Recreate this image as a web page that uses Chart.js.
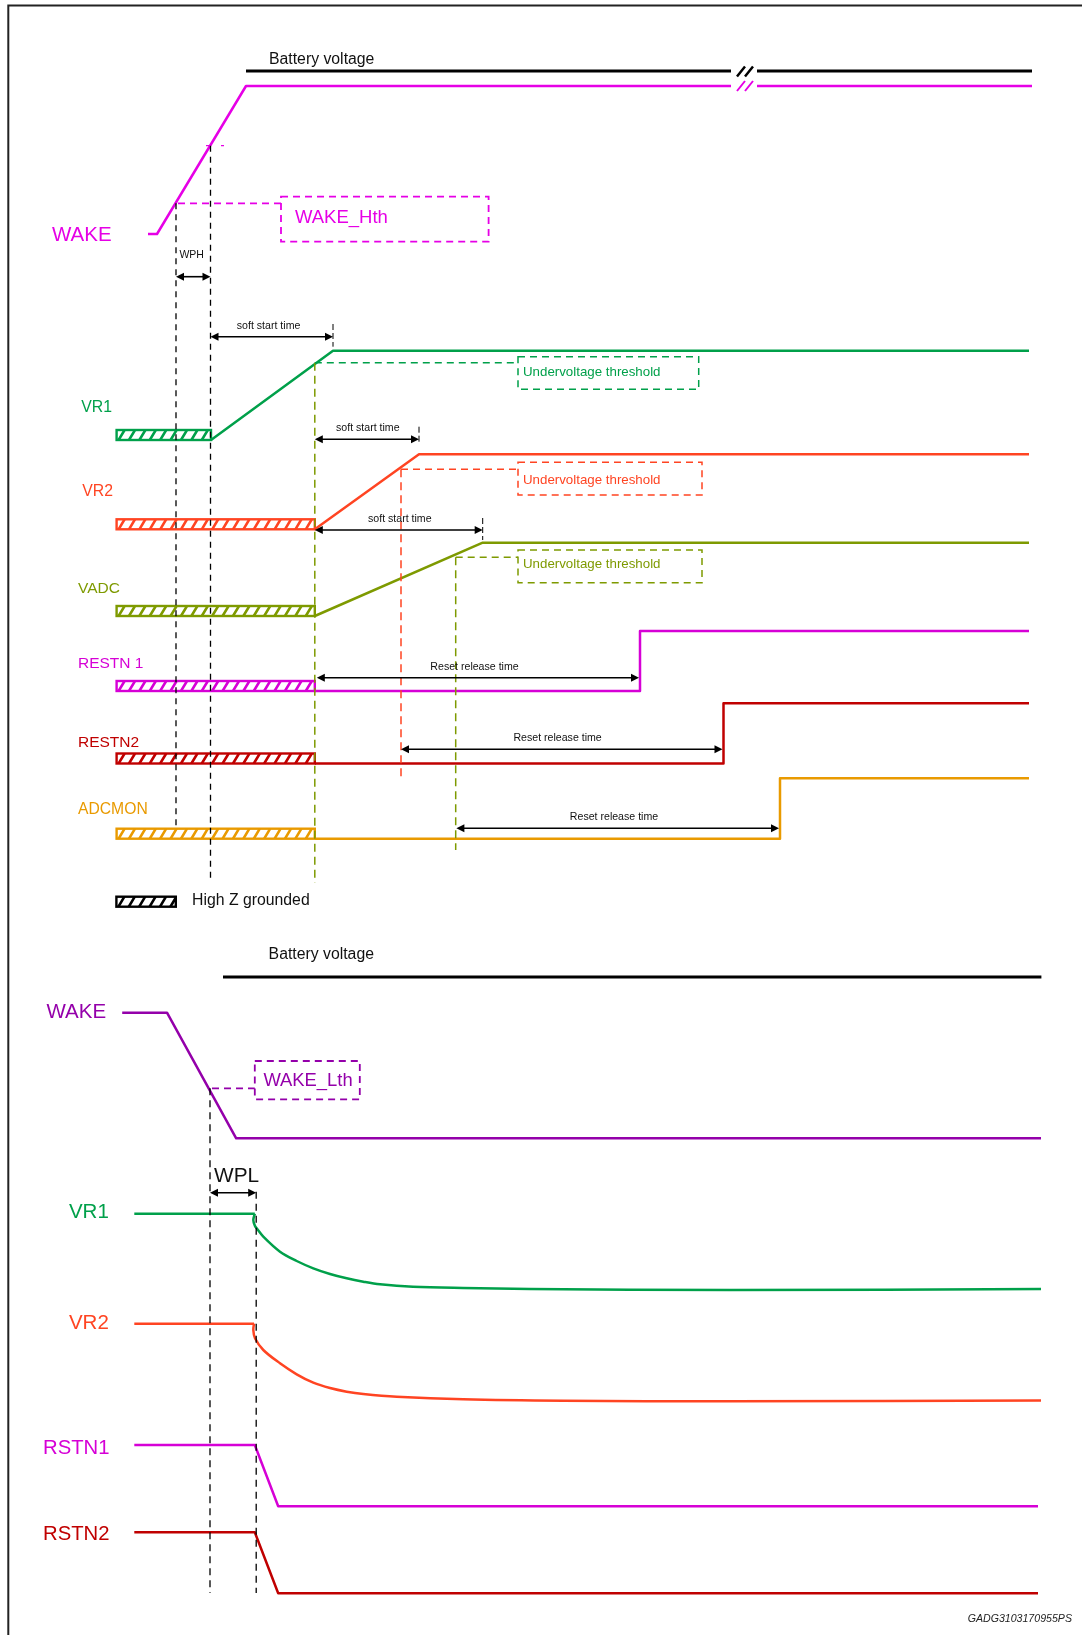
<!DOCTYPE html>
<html><head><meta charset="utf-8">
<script src="https://cdn.jsdelivr.net/npm/chart.js@4.4.1/dist/chart.umd.min.js"></script>
<style>html,body{margin:0;padding:0;background:#fff}#wrap{width:1082px;height:1635px;position:relative}</style>
</head><body><div id="wrap"><canvas id="c"></canvas></div>
<script>
// ===== DATA (time in diagram units, level 0 = low, 1 = high) =====
// Power-up sequence (upper diagram)
const wakeUpT   = [148, 157, 246, 731, 744, 757, 1032];
const wakeUpL   = [0, 0, 1, 1, null, 1, 1];
const vr1UpT    = [211, 333, 1029];
const vr1UpL    = [0, 1, 1];
const vr2UpT    = [314.8, 419, 1029];
const vr2UpL    = [0, 1, 1];
const vadcUpT   = [314.8, 482.7, 1029];
const vadcUpL   = [0, 1, 1];
const restn1T   = [314.8, 640, 640, 1029];
const restn1L   = [0, 0, 1, 1];
const restn2T   = [314.8, 723.5, 723.5, 1029];
const restn2L   = [0, 0, 1, 1];
const adcmonT   = [314.8, 780, 780, 1029];
const adcmonL   = [0, 0, 1, 1];
const highZStart = 116.6;
const highZEnd   = [211, 314.8, 314.8, 314.8, 314.8, 314.8];   // VR1, VR2, VADC, RESTN1, RESTN2, ADCMON
const batteryUpT = [246, 731, 744, 757, 1032];
const batteryUpOn = [1, 1, null, 1, 1];
const wakeHthLevel = 0.207;
const uvLevels     = [0.866, 0.80, 0.80];        // VR1, VR2, VADC undervoltage thresholds
const uvCrossT     = [314.8, 401, 455.7];        // time each rail crosses its threshold
const wakeHthT     = 176;                        // WAKE crosses WAKE_Hth
const wphEndT      = 210.5;                      // end of WPH filter time
// Power-down sequence (lower diagram)
const wakeDnT  = [122.2, 167, 236.2, 1041];
const wakeDnL  = [1, 1, 0, 0];
const vr1FlatT = [134.3, 254.8];
const vr1DecT  = [254.8, 253.3, 255, 256.7, 263.3, 280, 296.7, 313.3, 330, 346.7, 363.3, 380, 413, 463, 530, 730, 1041];
const vr1DecL  = [1, 0.917, 0.839, 0.809, 0.699, 0.502, 0.38, 0.284, 0.21, 0.153, 0.109, 0.075, 0.043, 0.026, 0.013, 0, 0.013];
const vr2FlatT = [134.3, 254];
const vr2DecT  = [254, 253.3, 255, 263.3, 280, 296.7, 313.3, 330, 346.7, 363.3, 396.7, 463.3, 563.3, 730, 1041];
const vr2DecL  = [1, 0.919, 0.812, 0.661, 0.49, 0.348, 0.24, 0.171, 0.124, 0.094, 0.059, 0.026, 0.008, 0, 0.01];
const rstn1DnT = [134.3, 254.8, 278.2, 1038];
const rstn1DnL = [1, 1, 0, 0];
const rstn2DnT = [134.3, 254.8, 278.2, 1038];
const rstn2DnL = [1, 1, 0, 0];
const batteryDnT = [223, 1041.4];
const wakeLthLevel = 0.398;
const wakeLthT = 210;
const wplEndT  = 256.2;

// ===== LAYOUT (lanes in y-scale units) =====
const lanes = {
  wakeU:{low:234, high:86}, vr1U:{low:440, high:350.7}, vr2U:{low:529.3, high:454.3},
  vadcU:{low:616, high:542.7}, rst1U:{low:691, high:631}, rst2U:{low:763.5, high:703.3},
  adcU:{low:838.7, high:778.3}, batU:{low:71, high:71},
  wakeD:{low:1138.3, high:1012.7}, vr1D:{low:1290, high:1213.7}, vr2D:{low:1401.3, high:1323.7},
  rst1D:{low:1506.3, high:1445}, rst2D:{low:1593.3, high:1532.3}, batD:{low:977, high:977}
};
const C = {wakeU:'#E600E6', vr1:'#00A04A', vr2:'#FF4422', vadc:'#7E9A00', rst1:'#D600D6',
           rst2:'#C00000', adc:'#E99A00', wakeD:'#9400AA', black:'#111'};
const FONT = '"Liberation Sans", Arial, sans-serif';

const lv = (lane, l) => lane.low + l * (lane.high - lane.low);
const pts = (T, L, lane) => T.map((t, i) => ({x: t, y: L[i] === null ? null : lv(lane, L[i])}));
const ds = (T, L, lane, color, w, tension) => ({data: pts(T, L, lane), borderColor: color, borderWidth: w || 2.5,
  showLine: true, pointRadius: 0, spanGaps: false, fill: false, tension: tension || 0, clip: false,
  borderJoinStyle: 'round'});

const datasets = [
  ds(batteryUpT, batteryUpOn, lanes.batU, '#000', 3),
  ds(wakeUpT, wakeUpL, lanes.wakeU, C.wakeU, 2.5),
  ds(vr1UpT, vr1UpL, lanes.vr1U, C.vr1, 2.5),
  ds(vr2UpT, vr2UpL, lanes.vr2U, C.vr2, 2.5),
  ds(vadcUpT, vadcUpL, lanes.vadcU, C.vadc, 2.5),
  ds(restn1T, restn1L, lanes.rst1U, C.rst1, 2.5),
  ds(restn2T, restn2L, lanes.rst2U, C.rst2, 2.5),
  ds(adcmonT, adcmonL, lanes.adcU, C.adc, 2.5),
  ds(batteryDnT, [1, 1], lanes.batD, '#000', 2.8),
  ds(wakeDnT, wakeDnL, lanes.wakeD, C.wakeD, 2.5),
  ds(vr1FlatT, [1, 1], lanes.vr1D, C.vr1, 2.5),
  ds(vr1DecT, vr1DecL, lanes.vr1D, C.vr1, 2.5, 0.35),
  ds(vr2FlatT, [1, 1], lanes.vr2D, C.vr2, 2.5),
  ds(vr2DecT, vr2DecL, lanes.vr2D, C.vr2, 2.5, 0.35),
  ds(rstn1DnT, rstn1DnL, lanes.rst1D, C.rst1, 2.5),
  ds(rstn2DnT, rstn2DnL, lanes.rst2D, C.rst2, 2.5)
];

const plugin = {
  id: 'timing',
  beforeDatasetsDraw(chart) {
    const ctx = chart.ctx, X = v => chart.scales.x.getPixelForValue(v), Y = v => chart.scales.y.getPixelForValue(v);
    // frame
    ctx.save(); ctx.strokeStyle = '#222'; ctx.lineWidth = 2;
    ctx.beginPath(); ctx.moveTo(X(8.3), Y(1635)); ctx.lineTo(X(8.3), Y(5.6)); ctx.lineTo(X(1082), Y(5.6)); ctx.stroke(); ctx.restore();
    // high-Z hatched boxes
    const hz = [[lanes.vr1U, C.vr1], [lanes.vr2U, C.vr2], [lanes.vadcU, C.vadc], [lanes.rst1U, C.rst1], [lanes.rst2U, C.rst2], [lanes.adcU, C.adc]];
    hz.forEach((h, i) => hatch(ctx, X(highZStart), X(highZEnd[i]), Y(h[0].low) - 10, Y(h[0].low), h[1]));
    hatch(ctx, X(116.4), X(175.8), Y(896.7), Y(906.7), '#000');
  },
  afterDatasetsDraw(chart) {
    const ctx = chart.ctx, X = v => chart.scales.x.getPixelForValue(v), Y = v => chart.scales.y.getPixelForValue(v);
    // break marks
    slashes(ctx, X(737), Y(76.5), '#000', 2.5);
    slashes(ctx, X(737), Y(91), C.wakeU, 2);
    // vertical dashed time markers
    vdash(ctx, X(wakeHthT), Y(lv(lanes.wakeU, wakeHthLevel)), Y(830), '#000', [6, 5]);
    vdash(ctx, X(wphEndT), Y(145.7), Y(878), '#000', [6, 5]);
    vdash(ctx, X(uvCrossT[0]), Y(lv(lanes.vr1U, uvLevels[0])), Y(883), C.vadc, [8, 5], 1.5);
    vdash(ctx, X(uvCrossT[1]), Y(lv(lanes.vr2U, uvLevels[1])), Y(780), C.vr2, [8, 5], 1.5);
    vdash(ctx, X(uvCrossT[2]), Y(lv(lanes.vadcU, uvLevels[2])), Y(850), C.vadc, [8, 5], 1.5);
    vdash(ctx, X(wakeLthT), Y(lv(lanes.wakeD, wakeLthLevel)), Y(1593), '#000', [7, 5]);
    vdash(ctx, X(wplEndT), Y(1191.7), Y(1593), '#000', [7, 5]);
    // small marks where WAKE crosses the filter end
    ctx.save(); ctx.strokeStyle = C.wakeU; ctx.lineWidth = 1.2; ctx.setLineDash([3, 12]);
    ctx.beginPath(); ctx.moveTo(X(206), Y(145.7)); ctx.lineTo(X(225), Y(145.7)); ctx.stroke(); ctx.restore();
    // threshold dashed lines and boxes
    hdash(ctx, X(wakeHthT + 2), X(281), Y(lv(lanes.wakeU, wakeHthLevel)), C.wakeU, 1.8);
    dbox(ctx, X(281), X(488.6), Y(196.7), Y(241.7), C.wakeU, 1.8);
    hdash(ctx, X(uvCrossT[0]), X(518), Y(lv(lanes.vr1U, uvLevels[0])), C.vr1, 1.5);
    dbox(ctx, X(518), X(698.7), Y(356.7), Y(389.3), C.vr1, 1.5);
    hdash(ctx, X(uvCrossT[1]), X(518), Y(lv(lanes.vr2U, uvLevels[1])), C.vr2, 1.5);
    dbox(ctx, X(518), X(702), Y(462.3), Y(495), C.vr2, 1.5);
    hdash(ctx, X(uvCrossT[2]), X(518), Y(lv(lanes.vadcU, uvLevels[2])), C.vadc, 1.5);
    dbox(ctx, X(518), X(702), Y(550), Y(582.7), C.vadc, 1.5);
    hdash(ctx, X(wakeLthT + 2), X(254.8), Y(lv(lanes.wakeD, wakeLthLevel)), C.wakeD, 1.8);
    dbox(ctx, X(254.8), X(359.8), Y(1061), Y(1099.3), C.wakeD, 1.8);
    // soft start ticks
    vdash(ctx, X(vr1UpT[1]), Y(324), Y(346.7), '#000', [6, 3], 1);
    vdash(ctx, X(vr2UpT[1]), Y(426.7), Y(443), '#000', [6, 3], 1);
    vdash(ctx, X(vadcUpT[1]), Y(518), Y(540), '#000', [6, 3], 1);
    // arrows
    arrow(ctx, X(wakeHthT), X(wphEndT), Y(276.7));
    arrow(ctx, X(wphEndT), X(vr1UpT[1]), Y(336.7));
    arrow(ctx, X(uvCrossT[0]), X(vr2UpT[1]), Y(439.3));
    arrow(ctx, X(uvCrossT[0]), X(vadcUpT[1]), Y(530));
    arrow(ctx, X(uvCrossT[0] + 2), X(restn1T[1] - 1), Y(677.7));
    arrow(ctx, X(uvCrossT[1]), X(restn2T[1] - 1), Y(749.3));
    arrow(ctx, X(uvCrossT[2] + 0.7), X(adcmonT[1] - 1), Y(828.3));
    arrow(ctx, X(wakeLthT), X(wplEndT), Y(1192.7));
    // texts
    const t = (s, x, y, size, color, opt) => {
      opt = opt || {};
      ctx.save(); ctx.font = (opt.style || '') + ' ' + size + 'px ' + FONT; ctx.fillStyle = color;
      ctx.textAlign = opt.align || 'left'; ctx.textBaseline = 'middle'; ctx.fillText(s, X(x), Y(y)); ctx.restore();
    };
    t('Battery voltage', 269, 59.5, 15.8, '#111');
    t('WAKE', 52, 235, 20.5, C.wakeU);
    t('WAKE_Hth', 295, 217.5, 18.5, C.wakeU);
    t('WPH', 179.4, 255, 10.5, '#111');
    t('soft start time', 236.8, 326, 10.6, '#111');
    t('VR1', 81.3, 407.6, 15.8, C.vr1);
    t('Undervoltage threshold', 523, 372.3, 13.3, C.vr1);
    t('soft start time', 336, 428, 10.6, '#111');
    t('VR2', 82.3, 492, 15.8, C.vr2);
    t('Undervoltage threshold', 523, 480.3, 13.3, C.vr2);
    t('soft start time', 368, 519.3, 10.6, '#111');
    t('VADC', 78, 589, 15.5, C.vadc);
    t('Undervoltage threshold', 523, 564.3, 13.3, C.vadc);
    t('RESTN 1', 78, 664, 15.5, C.rst1);
    t('Reset release time', 474.5, 666.7, 10.6, '#111', {align: 'center'});
    t('RESTN2', 78, 743, 15.5, C.rst2);
    t('Reset release time', 557.6, 738.3, 10.6, '#111', {align: 'center'});
    t('ADCMON', 78, 810, 15.7, C.adc);
    t('Reset release time', 614, 816.7, 10.6, '#111', {align: 'center'});
    t('High Z grounded', 192, 901, 15.8, '#111');
    t('Battery voltage', 268.6, 954.3, 15.8, '#111');
    t('WAKE', 46.5, 1012, 20.5, C.wakeD);
    t('WAKE_Lth', 263.4, 1081, 18.4, C.wakeD);
    t('WPL', 214, 1176, 20.8, '#111');
    t('VR1', 68.9, 1212, 20.5, C.vr1);
    t('VR2', 68.9, 1323, 20.5, C.vr2);
    t('RSTN1', 43, 1448, 20.3, C.rst1);
    t('RSTN2', 43, 1534.5, 20.3, C.rst2);
    t('GADG3103170955PS', 967.7, 1619, 10.6, '#222', {style: 'italic'});
  }
};

function hatch(ctx, x0, x1, yT, yB, color) {
  ctx.save();
  ctx.fillStyle = '#fff'; ctx.fillRect(x0, yT, x1 - x0, yB - yT);
  ctx.beginPath(); ctx.rect(x0, yT, x1 - x0, yB - yT); ctx.clip();
  ctx.strokeStyle = color; ctx.lineWidth = 2.6; ctx.beginPath();
  for (let x = x0 + 2; x < x1 + 8; x += 10.4) { ctx.moveTo(x, yB); ctx.lineTo(x + 6, yT); }
  ctx.stroke(); ctx.restore();
  ctx.save(); ctx.strokeStyle = color; ctx.lineWidth = 2.4; ctx.strokeRect(x0, yT, x1 - x0, yB - yT); ctx.restore();
}
function slashes(ctx, x, yB, color, w) {
  ctx.save(); ctx.strokeStyle = color; ctx.lineWidth = w; ctx.beginPath();
  ctx.moveTo(x, yB); ctx.lineTo(x + 8, yB - 10); ctx.moveTo(x + 8, yB); ctx.lineTo(x + 16, yB - 10); ctx.stroke(); ctx.restore();
}
function vdash(ctx, x, y0, y1, color, dash, w) {
  ctx.save(); ctx.strokeStyle = color; ctx.lineWidth = w || 1.3; ctx.setLineDash(dash);
  ctx.beginPath(); ctx.moveTo(x, y0); ctx.lineTo(x, y1); ctx.stroke(); ctx.restore();
}
function hdash(ctx, x0, x1, y, color, w) {
  ctx.save(); ctx.strokeStyle = color; ctx.lineWidth = w; ctx.setLineDash([7, 5]);
  ctx.beginPath(); ctx.moveTo(x0, y); ctx.lineTo(x1, y); ctx.stroke(); ctx.restore();
}
function dbox(ctx, x0, x1, yT, yB, color, w) {
  ctx.save(); ctx.strokeStyle = color; ctx.lineWidth = w; ctx.setLineDash([7, 5]);
  ctx.strokeRect(x0, yT, x1 - x0, yB - yT); ctx.restore();
}
function arrow(ctx, x0, x1, y) {
  const hl = 8, hw = 4;
  ctx.save(); ctx.strokeStyle = '#000'; ctx.fillStyle = '#000'; ctx.lineWidth = 1.6;
  ctx.beginPath(); ctx.moveTo(x0 + hl - 1, y); ctx.lineTo(x1 - hl + 1, y); ctx.stroke();
  ctx.beginPath(); ctx.moveTo(x0, y); ctx.lineTo(x0 + hl, y - hw); ctx.lineTo(x0 + hl, y + hw); ctx.closePath(); ctx.fill();
  ctx.beginPath(); ctx.moveTo(x1, y); ctx.lineTo(x1 - hl, y - hw); ctx.lineTo(x1 - hl, y + hw); ctx.closePath(); ctx.fill();
  ctx.restore();
}

new Chart(document.getElementById('c'), {
  type: 'scatter',
  data: {datasets},
  options: {
    responsive: true, maintainAspectRatio: false, animation: false, events: [],
    layout: {padding: 0},
    plugins: {legend: {display: false}, tooltip: {enabled: false}},
    scales: {
      x: {type: 'linear', min: 0, max: 1082, display: false},
      y: {type: 'linear', min: 0, max: 1635, reverse: true, display: false}
    }
  },
  plugins: [plugin]
});
</script></body></html>
